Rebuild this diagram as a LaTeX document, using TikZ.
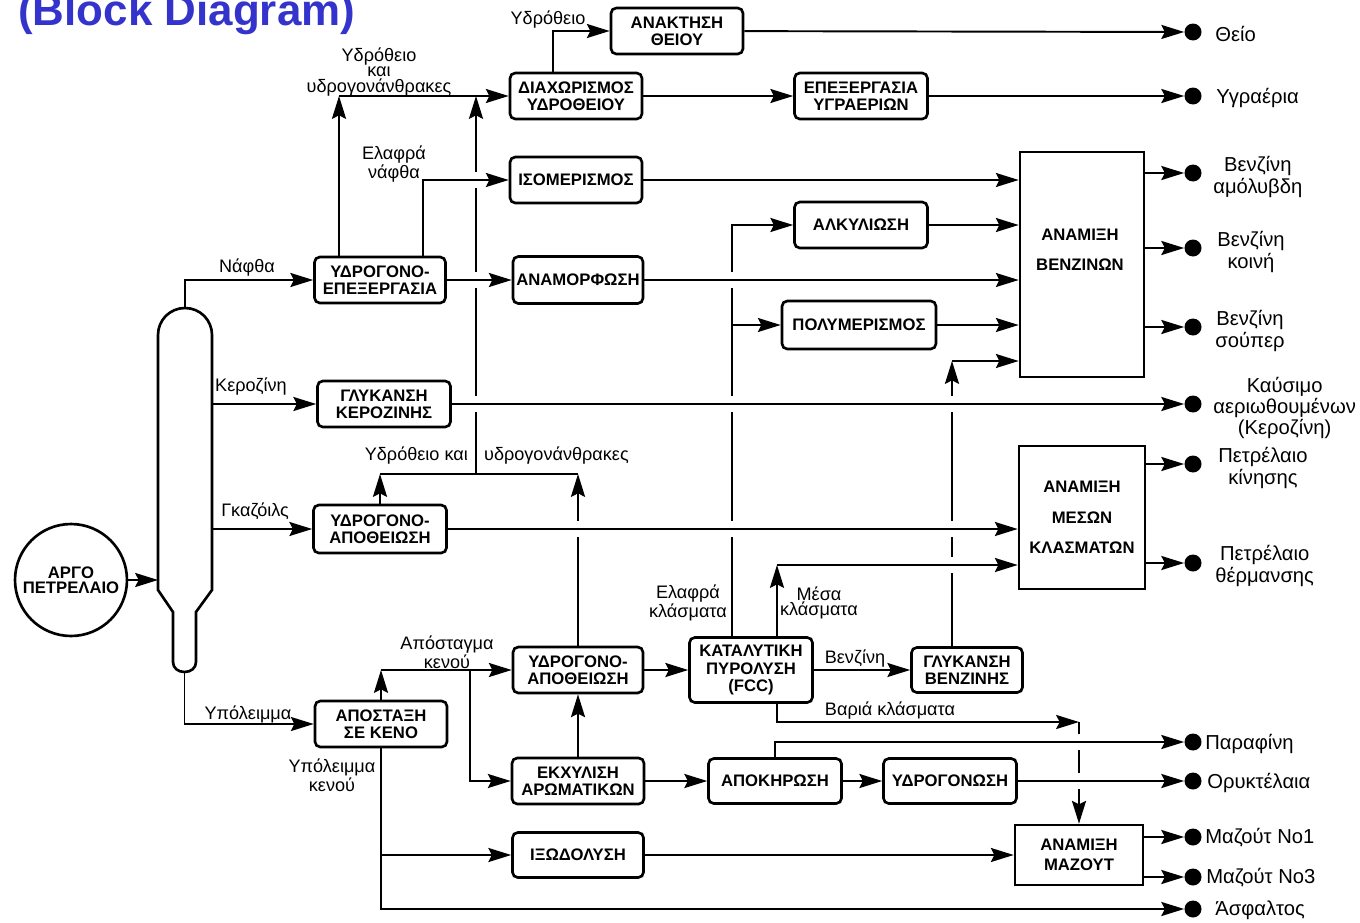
\documentclass[tikz,border=0pt]{standalone}
\usepackage{fontspec}
\setmainfont{Liberation Sans}
\usepackage{xcolor}
\usetikzlibrary{arrows.meta}
\definecolor{titleblue}{RGB}{52,52,204}
\pgfdeclarelayer{back}
\pgfsetlayers{back,main}

\begin{document}
\begin{tikzpicture}[x=0.02cm, y=-0.02cm,
    wh/.style 2 args={minimum width=#1*0.02cm, minimum height=#2*0.02cm},
    unit/.style={draw, rounded corners=3pt, line width=1.5pt, fill=white, align=center,
        inner sep=1pt, font=\fontsize{9.5}{9.5}\selectfont\bfseries, wh={132}{46}},
    blend/.style={draw, line width=1.5pt, fill=white, align=center, inner sep=1pt,
        font=\fontsize{9.5}{17.5}\selectfont\bfseries},
    prod/.style={circle, fill, inner sep=0pt, minimum size=0.34cm},
    tag/.style={inner sep=1pt, align=center, font=\fontsize{10.3}{9}\selectfont},
    ptag/.style={inner sep=0pt, align=center, anchor=west, font=\fontsize{11.5}{10.5}\selectfont},
    flow/.style={line width=1.1pt, -{Stealth[length=13pt, width=8pt, inset=2pt]}},
    hop/.style={preaction={draw=white, line width=9pt, -}}]
\useasboundingbox (0,0) rectangle (1360,923);
\clip (0,0) rectangle (1360,923);

\node[anchor=base west, inner sep=0pt, text=titleblue,
    font=\fontsize{25}{25}\selectfont\bfseries] (title) at (18,25) {(Block Diagram)};

% crude oil and the column
\node[draw, circle, line width=1.5pt, fill=white, minimum size=2.24cm, inner sep=0pt,
    align=center, font=\fontsize{9.5}{8.5}\selectfont\bfseries] (crude) at (71,580) {ΑΡΓΟ\\ΠΕΤΡΕΛΑΙΟ};
\draw[line width=1.5pt, fill=white] (158,335) .. controls (158,320) and (170,308) .. (185,308)
    .. controls (200,308) and (212,320) .. (212,335) -- (212,590) -- (196,612) -- (196,662)
    .. controls (196,668) and (191,672) .. (184.5,672) .. controls (178,672) and (173,668) .. (173,662)
    -- (173,612) -- (158,590) -- cycle;
\coordinate (coltop) at (185,308);
\coordinate (colbot) at (184.5,672);
\coordinate (colfeed) at (158,580);
\coordinate (colkero) at (212,404);
\coordinate (colgas) at (212,529);

% units
\node[unit, wh={131}{46}] (hdt) at (380,280) {ΥΔΡΟΓΟΝΟ-\\ΕΠΕΞΕΡΓΑΣΙΑ};
\node[unit, wh={133}{46}] (kswt) at (384,404) {ΓΛΥΚΑΝΣΗ\\ΚΕΡΟΖΙΝΗΣ};
\node[unit, wh={133}{48}] (hdsa) at (380,529) {ΥΔΡΟΓΟΝΟ-\\ΑΠΟΘΕΙΩΣΗ};
\node[unit] (vac) at (381,724) {ΑΠΟΣΤΑΞΗ\\ΣΕ ΚΕΝΟ};
\node[unit] (srec) at (677,31) {ΑΝΑΚΤΗΣΗ\\ΘΕΙΟΥ};
\node[unit] (hsep) at (576,96) {ΔΙΑΧΩΡΙΣΜΟΣ\\ΥΔΡΟΘΕΙΟΥ};
\node[unit, wh={133}{46}] (lpg) at (861,96) {ΕΠΕΞΕΡΓΑΣΙΑ\\ΥΓΡΑΕΡΙΩΝ};
\node[unit] (isom) at (576,180) {ΙΣΟΜΕΡΙΣΜΟΣ};
\node[unit, wh={133}{46}] (alky) at (861,225) {ΑΛΚΥΛΙΩΣΗ};
\node[unit, wh={130}{47}] (refo) at (578,280) {ΑΝΑΜΟΡΦΩΣΗ};
\node[unit, wh={154}{48}] (poly) at (859,325) {ΠΟΛΥΜΕΡΙΣΜΟΣ};
\node[unit, wh={130}{46}] (hdsb) at (578,670) {ΥΔΡΟΓΟΝΟ-\\ΑΠΟΘΕΙΩΣΗ};
\node[unit] (extr) at (578,781) {ΕΚΧΥΛΙΣΗ\\ΑΡΩΜΑΤΙΚΩΝ};
\node[unit, wh={123}{65}, font=\fontsize{9.5}{10}\selectfont\bfseries] (fcc) at (751,670) {ΚΑΤΑΛΥΤΙΚΗ\\ΠΥΡΟΛΥΣΗ\\(FCC)};
\node[unit, wh={111}{45}] (gswt) at (967,670) {ΓΛΥΚΑΝΣΗ\\ΒΕΝΖΙΝΗΣ};
\node[unit, wh={133}{45}] (dewax) at (775,781) {ΑΠΟΚΗΡΩΣΗ};
\node[unit, wh={133}{45}] (hydr) at (950,781) {ΥΔΡΟΓΟΝΩΣΗ};
\node[unit, wh={131}{45}] (visb) at (578,855) {ΙΞΩΔΟΛΥΣΗ};

% blending
\node[blend, wh={124}{225}] (gblend) at (1082,264.5) {};
\node[tag, font=\fontsize{9.5}{17}\selectfont\bfseries] (gbtxt) at (1080,250) {ΑΝΑΜΙΞΗ\\ΒΕΝΖΙΝΩΝ};
\node[blend, wh={126}{143}] (dblend) at (1082,517.5) {ΑΝΑΜΙΞΗ\\ΜΕΣΩΝ\\ΚΛΑΣΜΑΤΩΝ};
\node[blend, wh={128}{60}, font=\fontsize{9.5}{11.5}\selectfont\bfseries] (fblend) at (1079,855) {ΑΝΑΜΙΞΗ\\ΜΑΖΟΥΤ};

% products
\node[prod] (sulf) at (1193,32) {};
\node[prod] (lpgp) at (1193,96) {};
\node[prod] (gas1) at (1193,173) {};
\node[prod] (gas2) at (1193,248) {};
\node[prod] (gas3) at (1193,327) {};
\node[prod] (jet) at (1193,404) {};
\node[prod] (dsl) at (1193,464) {};
\node[prod] (hto) at (1193,563) {};
\node[prod] (parp) at (1193,742) {};
\node[prod] (lube) at (1193,781) {};
\node[prod] (m1) at (1193,837) {};
\node[prod] (m3) at (1193,877) {};
\node[prod] (asph) at (1193,909) {};

\node[ptag] (pSulf) at (1215,34) {Θείο};
\node[ptag] (pLpg) at (1216,98) {Υγραέρια};
\node[ptag] (pGas1) at (1213,177) {Βενζίνη\\αμόλυβδη};
\node[ptag] (pGas2) at (1217,252) {Βενζίνη\\κοινή};
\node[ptag] (pGas3) at (1215,331) {Βενζίνη\\σούπερ};
\node[ptag] (pJet) at (1213,408) {Καύσιμο\\αεριωθουμένων\\(Κεροζίνη)};
\node[ptag] (pDsl) at (1218,468) {Πετρέλαιο\\κίνησης};
\node[ptag] (pHto) at (1215,566) {Πετρέλαιο\\θέρμανσης};
\node[ptag] (pPar) at (1205,744) {Παραφίνη};
\node[ptag] (pLube) at (1207,783) {Ορυκτέλαια};
\node[ptag] (pM1) at (1205,838) {Μαζούτ No1};
\node[ptag] (pM3) at (1206,878) {Μαζούτ No3};
\node[ptag] (pAsph) at (1215,910) {Άσφαλτος};

% stream labels
\node[tag] (tNaph) at (247,268) {Νάφθα};
\node[tag] (tKero) at (251,387) {Κεροζίνη};
\node[tag] (tGas) at (255,511) {Γκαζόιλς};
\node[tag] (tRes) at (248,714) {Υπόλειμμα};
\node[tag] (tHgas) at (379,72) {Υδρόθειο\\και\\υδρογονάνθρακες};
\node[tag] (tLn) at (394,164) {Ελαφρά\\νάφθα};
\node[tag] (tH2S) at (548,20) {Υδρόθειο};
\node[tag, anchor=east] (tHa) at (470,456) {Υδρόθειο και};
\node[tag, anchor=west] (tHb) at (482,456) {υδρογονάνθρακες};
\node[tag] (tVd) at (447,652) {Απόσταγμα\\κενού};
\node[tag] (tVr) at (332,775) {Υπόλειμμα\\κενού};
\node[tag] (tLf) at (688,603) {Ελαφρά\\κλάσματα};
\node[tag] (tMd) at (819,603) {Μέσα\\κλάσματα};
\node[tag] (tGso) at (855,659) {Βενζίνη};
\node[tag] (tHf) at (890,711) {Βαριά κλάσματα};

% corner points
\coordinate (hgas) at (339,96);
\coordinate (ln) at (423,180);
\coordinate (hs) at (553,31);
\coordinate (hjoin) at (476,474);
\coordinate (vd) at (470,670);
\coordinate (lf) at (732,600);
\coordinate (md) at (777,565);
\coordinate (gs) at (952,361);
\coordinate (hf) at (1079,722);

\begin{pgfonlayer}{back}
% lines that get crossed
\draw[flow] (hjoin) -- (hjoin |- hsep.west);
\draw[flow] (hdsb.north) -- (hdsb.north |- hjoin);
\draw[flow] (fcc.north -| lf) |- (alky);
\draw[flow] (gswt.north -| gs) -- (gs);
\draw[flow] (hf) -- (hf |- fblend.north);

% lines that cross over
\draw[flow, hop] (hdt.north -| ln) |- (isom);
\draw[flow, hop] (hdt) -- (refo);
\draw[flow, hop] (refo) -- (refo -| gblend.west);
\draw[flow, hop] (kswt) -- (jet);
\draw[flow, hop] (hdsa) -- (hdsa -| dblend.west);
\draw[flow, hop] (md) -- (md -| dblend.west);
\draw[flow, hop] (dewax.north) |- (parp);
\draw[flow, hop] (hydr) -- (lube);

% the rest
\draw[flow] (crude) -- (colfeed);
\draw[flow] (coltop) |- (hdt);
\draw[flow] (colkero) -- (kswt);
\draw[flow] (colgas) -- (hdsa);
\draw[flow] (colbot) |- (vac);
\draw[flow] (hdt.north -| hgas) -- (hgas);
\draw[flow] (hgas) -- (hsep);
\draw[flow] (hsep.north -| hs) |- (srec);
\draw[flow] (srec) -- (sulf);
\draw[flow] (hsep) -- (lpg);
\draw[flow] (lpg) -- (lpgp);
\draw[flow] (isom) -- (isom -| gblend.west);
\draw[flow] (alky) -- (alky -| gblend.west);
\draw[flow] (poly) -- (poly -| gblend.west);
\draw[flow] (lf |- poly) -- (poly);
\draw[flow] (gs) -- (gs -| gblend.west);
\draw[flow] (gblend.east |- gas1) -- (gas1);
\draw[flow] (gblend.east |- gas2) -- (gas2);
\draw[flow] (gblend.east |- gas3) -- (gas3);
\draw[flow] (dblend.east |- dsl) -- (dsl);
\draw[flow] (dblend.east |- hto) -- (hto);
\draw[flow] (hdsa.north) -- (hdsa.north |- hjoin);
\draw[line width=1.1pt] (hdsa.north |- hjoin) -- (hdsb.north |- hjoin);
\draw[flow] (vac.north) -- (vac.north |- hdsb);
\draw[flow] (vac.north |- hdsb) -- (hdsb);
\draw[flow] (vd) |- (extr);
\draw[flow] (extr) -- (hdsb);
\draw[flow] (hdsb) -- (fcc);
\draw[flow] (fcc.north -| md) -- (md);
\draw[flow] (fcc) -- (gswt);
\draw[flow] (fcc.south -| md) |- (hf);
\draw[flow] (extr) -- (dewax);
\draw[flow] (dewax) -- (hydr);
\draw[flow] (vac) |- (asph);
\draw[flow] (vac.south |- visb) -- (visb);
\draw[flow] (visb) -- (fblend);
\draw[flow] (fblend.east |- m1) -- (m1);
\draw[flow] (fblend.east |- m3) -- (m3);
\end{pgfonlayer}
\end{tikzpicture}
\end{document}
